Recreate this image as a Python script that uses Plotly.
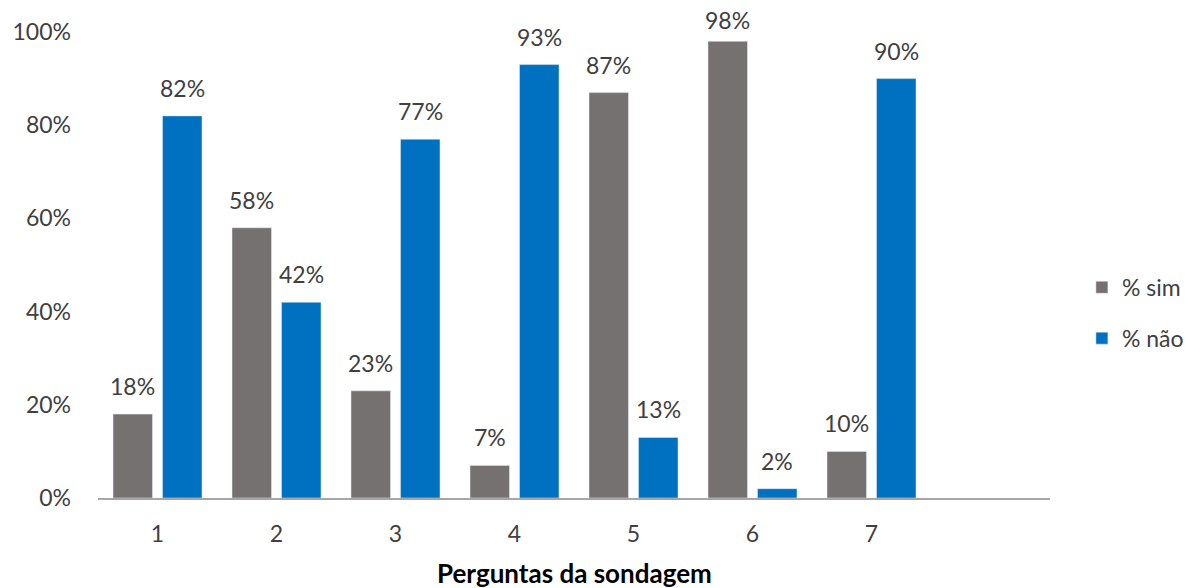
import plotly.graph_objects as go

categories = [1, 2, 3, 4, 5, 6, 7]
sim = [18, 58, 23, 7, 87, 98, 10]
nao = [82, 42, 77, 93, 13, 2, 90]
y_ticks = [0, 20, 40, 60, 80, 100]
y_tick_labels = ["0%", "20%", "40%", "60%", "80%", "100%"]
x_title = "Perguntas da sondagem"

font_family = "Lato, 'Open Sans', sans-serif"
text_color = "#404040"
fs = 23

fig = go.Figure()
fig.add_trace(go.Bar(
    x=categories, y=sim, name="% sim",
    marker_color="#767171", legendgroup="a",
))
fig.add_trace(go.Bar(
    x=categories, y=nao, name="% não",
    marker_color="#0070C0", legendgroup="b",
))

annotations = []
for series, shift in ((sim, -24.75), (nao, 24.75)):
    for c, v in zip(categories, series):
        # labels that would leave the chart are held at the top edge of the plot
        clamped = v > 95
        annotations.append(dict(
            x=c, y=100 if clamped else v, xref="x", yref="y", text=f"{v}%",
            showarrow=False, xshift=shift, yshift=-4 if clamped else 12,
            yanchor="bottom",
            font=dict(size=fs, color=text_color, family=font_family),
        ))

# x-axis title (placed as annotation so it can sit lower than the margin allows)
annotations.append(dict(
    x=0.5, y=-0.162, xref="paper", yref="paper", text=f"<b>{x_title}</b>",
    showarrow=False, xanchor="center", yanchor="middle",
    font=dict(size=26, color="#000000", family=font_family),
))

fig.update_layout(
    width=1185, height=588,
    margin=dict(l=98, r=135, t=32, b=90, autoexpand=False),
    plot_bgcolor="white", paper_bgcolor="white",
    barmode="group", bargap=0.168, bargroupgap=0.202,
    font=dict(family=font_family, size=fs, color=text_color),
    showlegend=True,
    annotations=annotations,
    legend=dict(x=0.913, y=0.468, xref="container", yref="container",
                xanchor="left", yanchor="middle",
                font=dict(size=fs, color=text_color), tracegroupgap=18,
                bgcolor="rgba(0,0,0,0)"),
    xaxis=dict(
        range=[0.5, 8.5], tickvals=categories, ticktext=[str(c) for c in categories],
        showline=True, linecolor="#A6A6A6", linewidth=1.5, showgrid=False,
        zeroline=False, ticks="", ticklabelstandoff=15, automargin=False,
        tickfont=dict(size=fs, color=text_color),
    ),
    yaxis=dict(
        range=[0, 100], tickvals=y_ticks, ticktext=y_tick_labels,
        showgrid=False, zeroline=False, showline=False, ticks="",
        ticklabelstandoff=26, automargin=False,
        tickfont=dict(size=fs, color=text_color),
    ),
)

fig.write_html("out.html")
